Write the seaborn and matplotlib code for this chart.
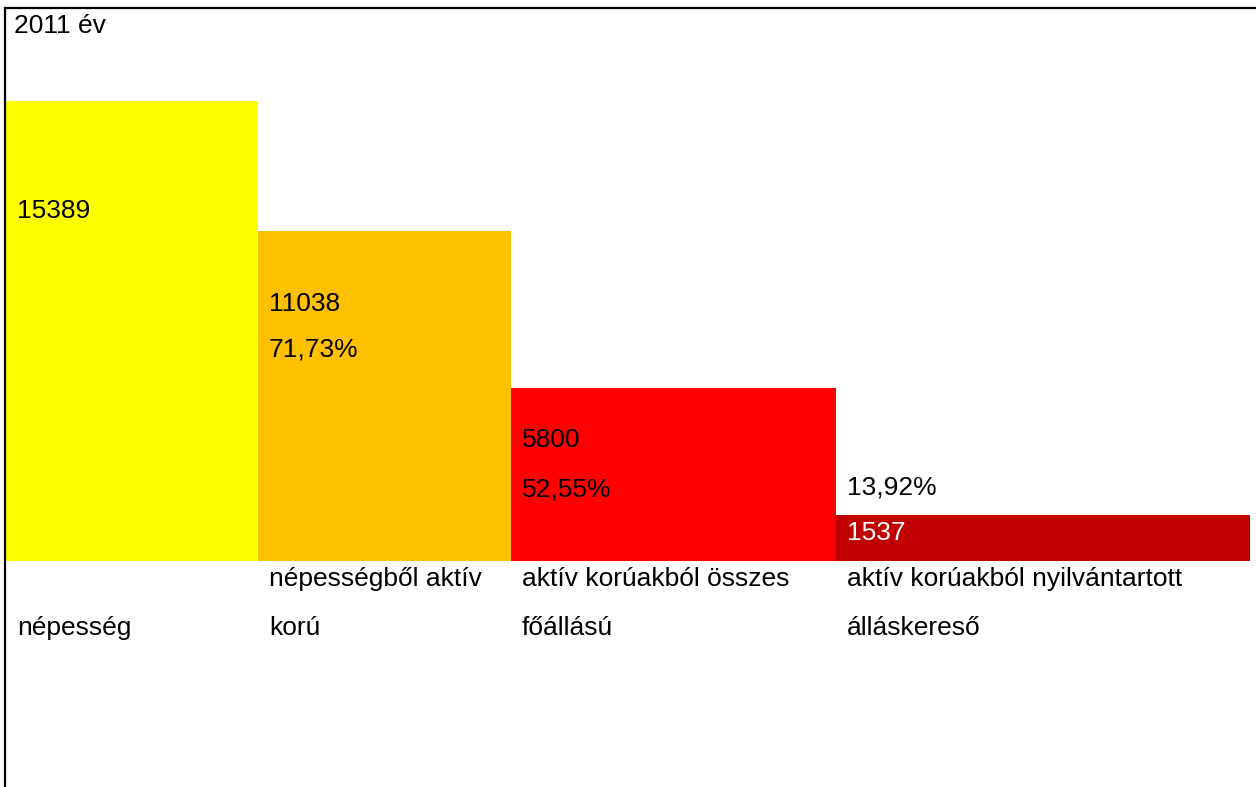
import matplotlib
matplotlib.use("Agg")
import matplotlib.pyplot as plt
import seaborn as sns

# Data
categories = ["népesség", "népességből aktív korú",
              "aktív korúakból összes főállású",
              "aktív korúakból nyilvántartott álláskereső"]
values = [15389, 11038, 5800, 1537]
percents = [None, "71,73%", "52,55%", "13,92%"]
label_lines = [["", "népesség"],
               ["népességből aktív", "korú"],
               ["aktív korúakból összes", "főállású"],
               ["aktív korúakból nyilvántartott", "álláskereső"]]
colors = ["#FFFF00", "#FFC000", "#FF0000", "#C00000"]
title = "2011 év"

# layout (pixels of the 1256x787 picture)
W, H = 1256, 787
bar_widths = [252, 253, 325, 414]
base_px = 561          # baseline of the bars
top_px = 101           # top of the tallest bar
frame_left, frame_top = 5, 8

sns.set_style("white")
plt.rcParams["font.family"] = ["Liberation Sans", "DejaVu Sans"]
FS = 19

fig = plt.figure(figsize=(W / 100, H / 100), dpi=100)
ax = fig.add_axes([frame_left / W, 0, (W - frame_left) / W, (H - frame_top) / H])

sns.barplot(x=categories, y=values, hue=categories, palette=colors,
            legend=False, width=1, saturation=1, ax=ax, linewidth=0)

# scale: data units per pixel
k = max(values) / (base_px - top_px)


def py(p):
    return (base_px - p) * k


# give each bar its own width, side by side
left = 1
lefts = []
for patch, w in zip(ax.patches, bar_widths):
    patch.set_x(left)
    patch.set_width(w)
    lefts.append(left)
    left += w

ax.set_xlim(0, W - frame_left)
ax.set_ylim(py(H), py(frame_top))
ax.set_xticks([])
ax.set_yticks([])
ax.set_xlabel("")
ax.set_ylabel("")

for side in ["right", "bottom"]:
    ax.spines[side].set_visible(False)
for side in ["left", "top"]:
    ax.spines[side].set_visible(True)
    ax.spines[side].set_color("black")
    ax.spines[side].set_linewidth(1.6)

# value and percentage labels
value_rows = [218, 311, 447, 540]
pct_rows = [None, 357, 497, 495]
for i in range(len(values)):
    x = lefts[i] + 11
    col = "white" if i == 3 else "black"
    ax.text(x, py(value_rows[i]), str(values[i]), fontsize=FS, color=col,
            va="baseline", ha="left")
    if percents[i]:
        ax.text(x, py(pct_rows[i]), percents[i], fontsize=FS, color="black",
                va="baseline", ha="left")

# category labels in two rows under the bars
for i, lines in enumerate(label_lines):
    x = lefts[i] + 11
    for txt, row in zip(lines, [586, 635]):
        if txt:
            ax.text(x, py(row), txt, fontsize=FS, color="black",
                    va="baseline", ha="left")

ax.text(9, py(33), title, fontsize=FS, color="black", va="baseline", ha="left")

fig.savefig("out.png", dpi=100, facecolor="white")
